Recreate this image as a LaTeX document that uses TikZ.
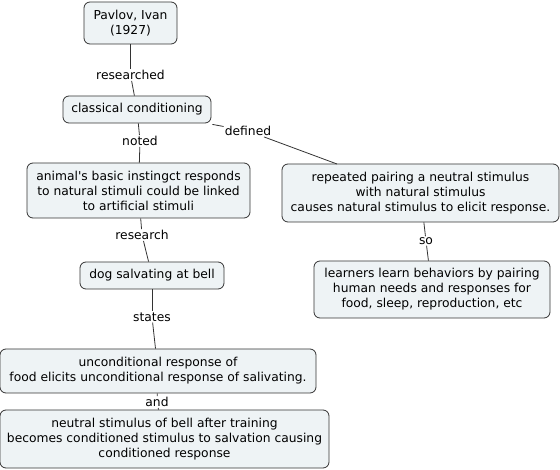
\documentclass[tikz,border=0pt]{standalone}
\usepackage{fontspec}
\newfontfamily\vfont{DejaVu Sans}
\definecolor{boxfill}{HTML}{EEF3F5}
\definecolor{boxline}{HTML}{333333}
\begin{document}
\begin{tikzpicture}[x=1pt,y=-1pt,
  concept/.style={draw=boxline,fill=boxfill,rounded corners=6pt,line width=0.8pt,
    align=center,inner sep=1pt,font=\vfont\fontsize{12.3}{15}\selectfont},
  linklabel/.style={inner sep=1pt,font=\vfont\fontsize{12.3}{13}\selectfont},
  conn/.style={draw=boxline,line width=0.8pt}]
\useasboundingbox (0,0) rectangle (560,470);
\node[concept,minimum width=93pt,minimum height=42pt] (pavlov) at (130.5,23) {Pavlov, Ivan\\(1927)};
\node[concept,minimum width=148pt,minimum height=27pt] (cc) at (137,109.5) {classical conditioning};
\node[concept,minimum width=223pt,minimum height=55pt] (animal) at (138.5,190.5) {animal's basic instingct responds\\to natural stimuli could be linked\\to artificial stimuli};
\node[concept,minimum width=277pt,minimum height=58pt] (repeated) at (420.5,193) {repeated pairing a neutral stimulus\\with natural stimulus\\causes natural stimulus to elicit response.};
\node[concept,minimum width=236pt,minimum height=57pt] (learners) at (432,289.5) {learners learn behaviors by pairing\\human needs and responses for\\food, sleep, reproduction, etc};
\node[concept,minimum width=144pt,minimum height=27pt] (dog) at (152,275.5) {dog salvating at bell};
\node[concept,minimum width=316pt,minimum height=44pt] (uncond) at (158,371) {unconditional response of\\food elicits unconditional response of salivating.};
\node[concept,minimum width=329pt,minimum height=58pt] (neutral) at (164.5,439) {neutral stimulus of bell after training\\becomes conditioned stimulus to salvation causing\\conditioned response};

\node[linklabel] (lresearched) at (130.5,75) {researched};
\node[linklabel] (lnoted) at (140,141) {noted};
\node[linklabel] (ldefined) at (248,131) {defined};
\node[linklabel] (lresearch) at (142,235) {research};
\node[linklabel] (lso) at (426,241) {so};
\node[linklabel] (lstates) at (152,317) {states};
\node[linklabel] (land) at (157,402) {and};

\coordinate (dtop) at (337,164);
\draw[conn] (pavlov) -- (lresearched);
\draw[conn] (lresearched) -- (cc);
\draw[conn] (cc) -- (lnoted);
\draw[conn] (lnoted) -- (animal);
\draw[conn] (cc.south east) ++(1pt,-1pt) -- (ldefined);
\draw[conn] (ldefined) -- (dtop);
\draw[conn] (animal) -- (lresearch);
\draw[conn] (lresearch) -- (dog);
\draw[conn] (repeated) -- (lso);
\draw[conn] (lso) -- (learners);
\draw[conn] (dog) -- (lstates);
\draw[conn] (lstates) -- (uncond);
\draw[conn] (uncond) -- (land);
\draw[conn] (land) -- (neutral);
\end{tikzpicture}
\end{document}
